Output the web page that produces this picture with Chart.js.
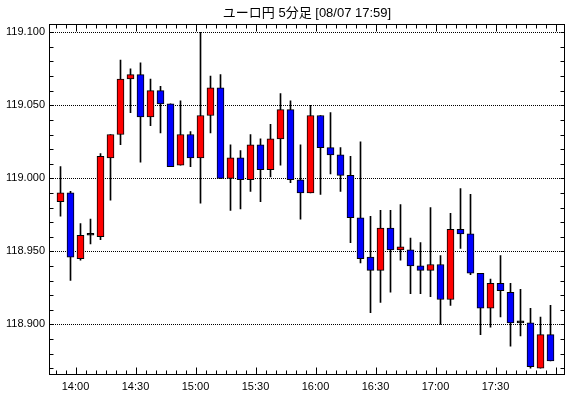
<!DOCTYPE html>
<html>
<head>
<meta charset="utf-8">
<script src="https://cdn.jsdelivr.net/npm/chart.js@4.4.0/dist/chart.umd.min.js"></script>
<style>
  html, body { margin: 0; padding: 0; background: #fff; }
  #wrap { width: 570px; height: 398px; }
</style>
</head>
<body>
<div id="wrap"><canvas id="chart"></canvas></div>
<script>
// 5-minute candles, EUR/JPY
const times = ['13:50','13:55','14:00','14:05','14:10','14:15','14:20','14:25','14:30','14:35',
               '14:40','14:45','14:50','14:55','15:00','15:05','15:10','15:15','15:20','15:25',
               '15:30','15:35','15:40','15:45','15:50','15:55','16:00','16:05','16:10','16:15',
               '16:20','16:25','16:30','16:35','16:40','16:45','16:50','16:55','17:00','17:05',
               '17:10','17:15','17:20','17:25','17:30','17:35','17:40','17:45','17:50','17:55'];
const opens  = [118.984,118.990,118.945,118.961,118.960,119.014,119.030,119.068,119.071,119.042,
                119.060,119.051,119.009,119.030,119.014,119.043,119.062,119.000,119.014,118.999,
                119.023,119.006,119.027,119.047,118.999,118.990,119.043,119.021,119.016,119.002,
                118.973,118.946,118.937,118.966,118.951,118.951,118.940,118.937,118.941,118.917,
                118.965,118.962,118.935,118.911,118.928,118.922,118.901,118.901,118.870,118.893];
const highs  = [119.008,118.991,118.969,118.972,119.017,119.030,119.081,119.075,119.079,119.068,
                119.063,119.051,119.053,119.032,119.100,119.070,119.071,119.023,119.019,119.030,
                119.027,119.037,119.058,119.053,119.023,119.050,119.043,119.045,119.021,119.015,
                119.025,118.974,118.978,118.978,118.982,118.959,118.956,118.980,118.947,118.976,
                118.993,118.989,118.935,118.931,118.947,118.928,118.924,118.911,118.905,118.913];
const lows   = [118.974,118.930,118.944,118.955,118.958,118.985,119.023,119.045,119.011,119.036,
                119.031,119.008,119.009,119.008,118.983,119.031,119.000,118.978,118.979,118.991,
                118.984,119.001,119.009,118.997,118.972,118.990,118.989,119.003,118.991,118.956,
                118.942,118.908,118.915,118.922,118.944,118.921,118.921,118.919,118.900,118.913,
                118.952,118.934,118.893,118.898,118.905,118.885,118.892,118.870,118.870,118.875];
const closes = [118.990,118.946,118.961,118.961,119.015,119.030,119.068,119.071,119.042,119.060,
                119.051,119.008,119.030,119.014,119.043,119.062,119.000,119.014,118.999,119.023,
                119.006,119.027,119.047,118.999,118.990,119.043,119.021,119.016,119.002,118.973,
                118.945,118.937,118.966,118.951,118.953,118.940,118.937,118.941,118.917,118.965,
                118.962,118.935,118.911,118.928,118.923,118.901,118.901,118.871,118.893,118.875];

const xTickLabels = ['14:00','14:30','15:00','15:30','16:00','16:30','17:00','17:30'];
const yTickLabels = ['118.900','118.950','119.000','119.050','119.100'];

function toMin(t) {
    const p = t.split(':');
    return +p[0] * 60 + +p[1];
}

// candle sits in the middle of its 5 minute slot
const centers = times.map(t => toMin(t) + 2.5);

const bodyColors = opens.map((o, i) => closes[i] > o ? '#ff0000' : (closes[i] < o ? '#0000ff' : '#000000'));

// frame, inner ticks
const frameTicks = {
    id: 'frameTicks',
    afterDraw(chart) {
        const { ctx, chartArea: a, scales: { x, y } } = chart;
        const L = Math.round(a.left) + 0.5, R = Math.round(a.right) - 0.5;
        const T = Math.round(a.top) + 0.5, B = Math.round(a.bottom) - 0.5;
        ctx.save();
        ctx.strokeStyle = '#000';
        ctx.lineWidth = 1;
        ctx.beginPath();
        for (let k = Math.ceil(y.min * 100); k <= Math.floor(y.max * 100); k++) {
            const py = Math.round(y.getPixelForValue(k / 100)) + 0.5;
            ctx.moveTo(L, py); ctx.lineTo(L + 4, py);
            ctx.moveTo(R, py); ctx.lineTo(R - 4, py);
        }
        for (let m = Math.ceil(x.min / 5) * 5; m <= x.max; m += 5) {
            const px = Math.round(x.getPixelForValue(m)) + 0.5;
            const len = m % 30 === 0 ? 7 : 4;
            ctx.moveTo(px, T); ctx.lineTo(px, T + len);
            ctx.moveTo(px, B); ctx.lineTo(px, B - len);
        }
        ctx.stroke();
        ctx.strokeRect(L, T, R - L, B - T);
        ctx.restore();
    }
};

const font = { family: 'Liberation Sans, Arial, sans-serif', size: 11 };

new Chart(document.getElementById('chart'), {
    type: 'bar',
    data: {
        datasets: [
            {
                label: 'body',
                data: centers.map((c, i) => ({ x: c, y: [opens[i], closes[i]] })),
                backgroundColor: bodyColors,
                borderColor: '#000',
                borderWidth: 1,
                borderSkipped: false,
                barThickness: 7,
                minBarLength: 2,
                grouped: false,
                order: 1
            },
            {
                label: 'wick',
                data: centers.map((c, i) => ({ x: c, y: [lows[i], highs[i]] })),
                backgroundColor: '#000',
                borderWidth: 0,
                barThickness: 1,
                grouped: false,
                order: 2
            }
        ]
    },
    options: {
        responsive: true,
        maintainAspectRatio: false,
        animation: false,
        devicePixelRatio: 1,
        layout: { padding: { left: 0, right: 5, top: 0, bottom: 0 } },
        plugins: {
            legend: { display: false },
            tooltip: { enabled: false },
            title: {
                display: true,
                text: 'ユーロ円 5分足 [08/07 17:59]',
                fullSize: false,
                color: '#000',
                font: { family: 'Liberation Sans, Noto Sans CJK JP, sans-serif', size: 13, weight: 'normal' },
                padding: { top: 5.4, bottom: 3.4 }
            }
        },
        scales: {
            x: {
                type: 'linear',
                offset: false,
                min: 826.75,
                max: 1084.75,
                grid: { display: false, drawTicks: false },
                border: { display: false },
                afterBuildTicks: s => { s.ticks = xTickLabels.map(t => ({ value: toMin(t) })); },
                afterFit: s => { s.height = 23; },
                ticks: {
                    autoSkip: false,
                    maxRotation: 0,
                    padding: 5,
                    color: '#000',
                    font: font,
                    callback: (v, i) => xTickLabels[i]
                }
            },
            y: {
                min: 118.8653,
                max: 119.1054,
                grid: { color: '#000', lineWidth: 1, drawTicks: false },
                border: { display: false, dash: [1, 1] },
                afterBuildTicks: s => { s.ticks = yTickLabels.map(t => ({ value: parseFloat(t) })); },
                afterFit: s => { s.width = 49; },
                ticks: {
                    padding: 4,
                    color: '#000',
                    font: font,
                    callback: (v, i) => yTickLabels[i]
                }
            }
        }
    },
    plugins: [frameTicks]
});
</script>
</body>
</html>
